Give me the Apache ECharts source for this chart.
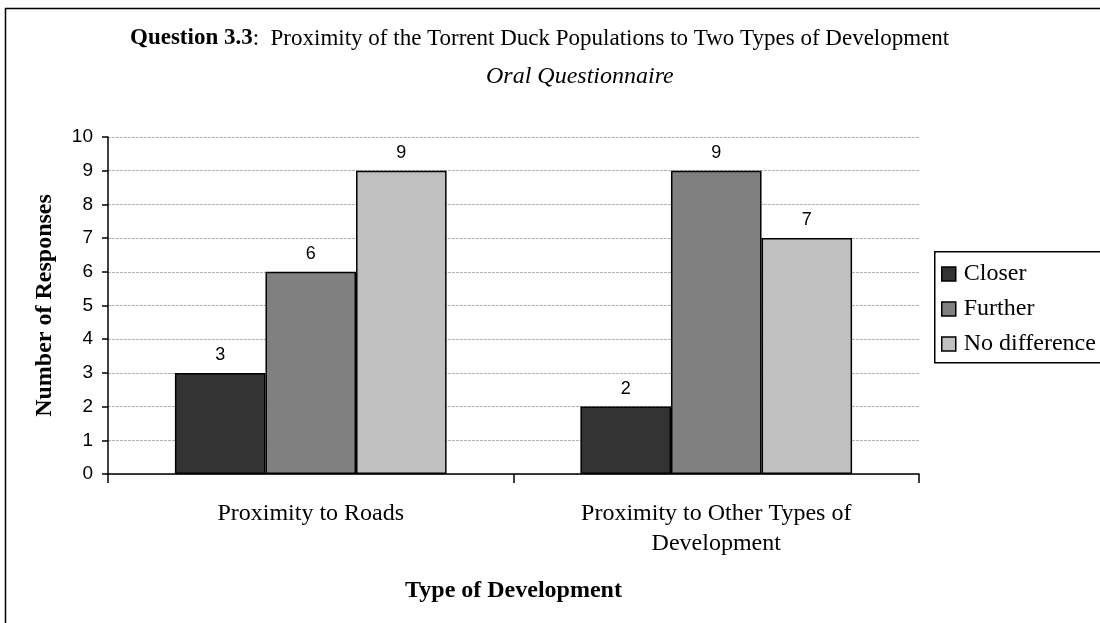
<!DOCTYPE html>
<html>
<head>
<meta charset="utf-8">
<script src="https://cdn.jsdelivr.net/npm/echarts@6/dist/echarts.min.js"></script>
<style>
  html, body { margin: 0; padding: 0; background: #fff; }
  #chart { width: 1100px; height: 623px; }
</style>
</head>
<body>
<div id="chart"></div>
<script>
// categories and values
const categories = ['Proximity to Roads', 'Proximity to Other Types of\nDevelopment'];
const seriesNames = ['Closer', 'Further', 'No difference'];
const closer = [3, 2];
const further = [6, 9];
const noDifference = [9, 7];
const colors = ['#333333', '#808080', '#c0c0c0'];

const serif = '"Liberation Serif", "Times New Roman", serif';
const sans = '"Liberation Sans", Arial, sans-serif';

const chart = echarts.init(document.getElementById('chart'));

const makeSeries = (name, data, i) => ({
  name: name,
  type: 'bar',
  data: data,
  barGap: '0%',
  barCategoryGap: '33%',
  itemStyle: { color: colors[i], borderColor: '#000', borderWidth: 1.5 },
  label: {
    show: true,
    position: 'top',
    distance: 9,
    color: '#000',
    fontFamily: sans,
    fontSize: 18
  }
});

chart.setOption({
  animation: false,
  backgroundColor: '#fff',
  graphic: [{
    type: 'rect',
    left: 3,
    top: 6,
    shape: { x: 0, y: 0, width: 1120, height: 640 },
    style: { fill: 'none', stroke: '#000', lineWidth: 1.5 },
    silent: true
  }, {
    type: 'text',
    left: 130,
    top: 27,
    style: {
      text: '{b|Question 3.3}{r|:  Proximity of the Torrent Duck Populations to Two Types of Development}',
      rich: {
        b: { fontFamily: serif, fontSize: 23, fontWeight: 'bold', fill: '#000' },
        r: { fontFamily: serif, fontSize: 23, fontWeight: 'normal', fill: '#000' }
      }
    },
    silent: true
  }, {
    type: 'text',
    left: 486,
    top: 65,
    style: {
      text: 'Oral Questionnaire',
      fontFamily: serif,
      fontSize: 24,
      fontStyle: 'italic',
      fill: '#000'
    },
    silent: true
  }, {
    type: 'rect',
    left: 934,
    top: 251,
    shape: { x: 0, y: 0, width: 180, height: 111 },
    style: { fill: '#fff', stroke: '#000', lineWidth: 1.5 },
    z: 0,
    silent: true
  }],
  legend: {
    orient: 'vertical',
    left: 941,
    top: 262,
    padding: 0,
    itemWidth: 14,
    itemHeight: 14,
    itemGap: 11,
    icon: 'rect',
    itemStyle: { borderColor: '#000', borderWidth: 1.5 },
    textStyle: { fontFamily: serif, fontSize: 24, color: '#000', padding: [0, 0, 0, 3] },
    data: seriesNames,
    z: 5
  },
  grid: { left: 108, right: 181, top: 137, bottom: 149, containLabel: false },
  xAxis: {
    type: 'category',
    data: categories,
    name: 'Type of Development',
    nameLocation: 'middle',
    nameGap: 105,
    nameTextStyle: { fontFamily: serif, fontSize: 24, fontWeight: 'bold', color: '#000' },
    axisLine: { lineStyle: { color: '#000', width: 1.5 } },
    axisTick: { show: true, alignWithLabel: false, length: 9, lineStyle: { color: '#000', width: 1.5 } },
    axisLabel: { fontFamily: serif, fontSize: 24, color: '#000', margin: 25, lineHeight: 30, interval: 0 }
  },
  yAxis: {
    type: 'value',
    min: 0,
    max: 10,
    interval: 1,
    name: 'Number of Responses',
    nameLocation: 'middle',
    nameGap: 51,
    nameTextStyle: { fontFamily: serif, fontSize: 24, fontWeight: 'bold', color: '#000' },
    axisLine: { show: true, lineStyle: { color: '#000', width: 1.5 } },
    axisTick: { show: true, length: 6, lineStyle: { color: '#000', width: 1.5 } },
    axisLabel: { fontFamily: sans, fontSize: 19, color: '#000', margin: 15 },
    splitLine: { show: true, lineStyle: { color: '#b0b0b0', type: [3, 1], width: 1 } }
  },
  series: [
    makeSeries(seriesNames[0], closer, 0),
    makeSeries(seriesNames[1], further, 1),
    makeSeries(seriesNames[2], noDifference, 2)
  ]
});
</script>
</body>
</html>
